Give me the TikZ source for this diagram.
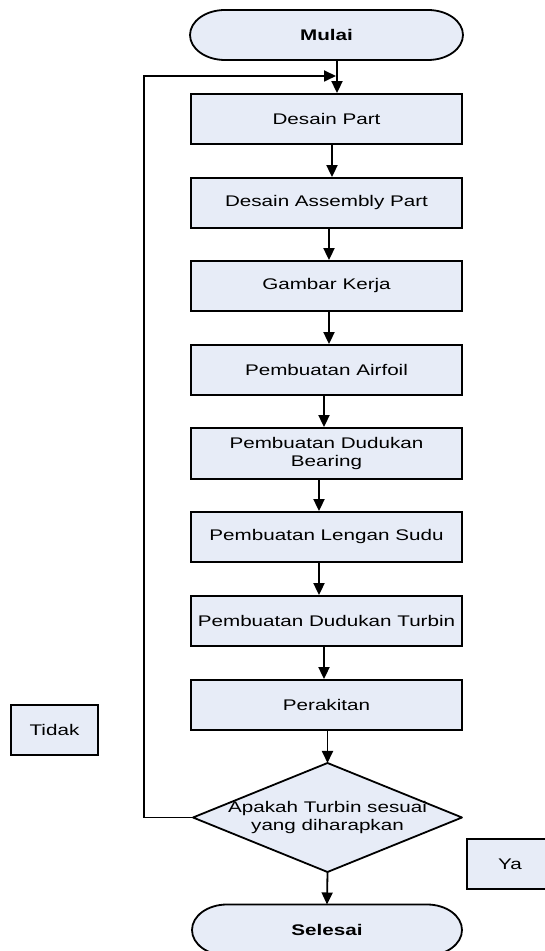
\documentclass[tikz,border=0pt]{standalone}
\usepackage{fontspec}
\newfontfamily\flowfont[FakeStretch=1.34]{Liberation Sans}
\usetikzlibrary{arrows.meta,backgrounds}
\definecolor{boxfill}{RGB}{231,236,247}
\begin{document}
\begin{tikzpicture}[x=1pt,y=1pt,
  every node/.style={font=\flowfont\fontsize{15.4}{17.5}\selectfont, inner sep=0pt, align=center},
  procbox/.style={draw=black, fill=boxfill, line width=1.8pt, minimum width=271pt, minimum height=50pt},
  termnode/.style={minimum width=271pt, minimum height=50pt, outer sep=0pt, font=\flowfont\bfseries\fontsize{15.4}{17.5}\selectfont},
  decnode/.style={minimum width=269pt, minimum height=109pt, outer sep=0pt},
  outline/.style={draw=black, fill=boxfill, line width=1.8pt, line join=round},
  arr/.style={line width=1.8pt, -{Triangle[width=11pt,length=12pt]}}
]
\useasboundingbox (0,0) rectangle (544,951);

% nodes
\node[termnode, minimum width=273pt] (mulai) at (326.5,916) {Mulai};
\node[procbox] (dp) at (326.5,832) {Desain Part};
\node[procbox] (da) at (326.5,748) {Desain Assembly Part};
\node[procbox] (gk) at (326.5,665) {Gambar Kerja};
\node[procbox] (af) at (326.5,581) {Pembuatan Airfoil};
\node[procbox, minimum height=51pt] (db) at (326.5,497.5) {Pembuatan Dudukan\\Bearing};
\node[procbox] (ls) at (326.5,414) {Pembuatan Lengan Sudu};
\node[procbox] (dt) at (326.5,330) {Pembuatan Dudukan Turbin};
\node[procbox] (pk) at (326.5,246) {Perakitan};
\node[decnode] (dec) at (327.5,133.5) {Apakah Turbin sesuai\\yang diharapkan};
\node[termnode, minimum width=270pt, minimum height=51pt] (selesai) at (327,21) {Selesai};
\node[procbox, minimum width=87pt] (tidak) at (54.5,221) {Tidak};
\node[procbox, minimum width=86pt] (ya) at (510,87) {Ya};

\begin{scope}[on background layer]
  \draw[outline] ([xshift=35pt]mulai.north west) -- ([xshift=-35pt]mulai.north east)
    arc[start angle=90,end angle=-90,x radius=35pt,y radius=25pt]
    -- ([xshift=35pt]mulai.south west)
    arc[start angle=270,end angle=90,x radius=35pt,y radius=25pt] -- cycle;
  \draw[outline] ([xshift=35pt]selesai.north west) -- ([xshift=-35pt]selesai.north east)
    arc[start angle=90,end angle=-90,x radius=35pt,y radius=25.5pt]
    -- ([xshift=35pt]selesai.south west)
    arc[start angle=270,end angle=90,x radius=35pt,y radius=25.5pt] -- cycle;
  \draw[outline] (dec.north) -- (dec.east) -- (dec.south) -- (dec.west) -- cycle;
\end{scope}

% connectors
\draw[arr] ([xshift=10.5pt]mulai.south) -- ([xshift=10.5pt]dp.north);
\draw[arr] ([xshift=5.5pt]dp.south) -- ([xshift=5.5pt]da.north);
\draw[arr] ([xshift=2.5pt]da.south) -- ([xshift=2.5pt]gk.north);
\draw[arr] ([xshift=2.5pt]gk.south) -- ([xshift=2.5pt]af.north);
\draw[arr] ([xshift=-2.5pt]af.south) -- ([xshift=-2.5pt]db.north);
\draw[arr] ([xshift=-7.5pt]db.south) -- ([xshift=-7.5pt]ls.north);
\draw[arr] ([xshift=-7.5pt]ls.south) -- ([xshift=-7.5pt]dt.north);
\draw[arr] ([xshift=-2.5pt]dt.south) -- ([xshift=-2.5pt]pk.north);
\draw[arr] ([xshift=1pt]pk.south) -- (dec.north);
\draw[arr] (dec.south) -- (selesai.north);

\coordinate (loopcorner) at (144,875);
\coordinate (loopjoin) at (336,875);
\draw[arr] (dec.west) -| (loopcorner) -- (loopjoin);
\end{tikzpicture}
\end{document}
